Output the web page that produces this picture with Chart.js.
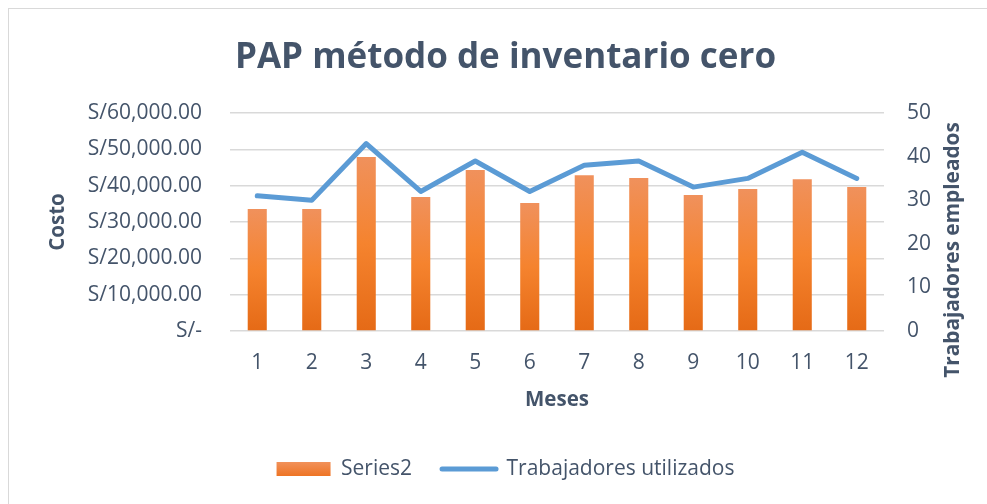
<!DOCTYPE html>
<html>
<head>
<meta charset="utf-8">
<script src="https://cdn.jsdelivr.net/npm/chart.js@4.4.1/dist/chart.umd.min.js"></script>
<style>
  html, body { margin: 0; padding: 0; background: #ffffff; }
  #wrap { position: relative; width: 987px; height: 504px; overflow: hidden; }
  #frame { position: absolute; left: 8px; top: 8px; width: 1200px; height: 800px; border: 1.5px solid #D9D9D9; box-sizing: border-box; pointer-events: none; }
  canvas { position: absolute; left: 0; top: 0; }
</style>
</head>
<body>
<div id="wrap">
  <canvas id="c" width="987" height="504"></canvas>
  <div id="frame"></div>
</div>
<script>
const categories = ['1','2','3','4','5','6','7','8','9','10','11','12'];
const costos = [33600, 33600, 47900, 36900, 44300, 35200, 42900, 42100, 37400, 39100, 41800, 39600];
const trabajadores = [31, 30, 43, 32, 39, 32, 38, 39, 33, 35, 41, 35];
const costTicks = [0, 10000, 20000, 30000, 40000, 50000, 60000];
const workerTicks = [0, 10, 20, 30, 40, 50];

const TEXT = '#44546A';
const FONT = "'Open Sans', 'Noto Sans', sans-serif";
const PAD_LEFT = 24;

function fmtCost(v) {
  if (v === 0) return 'S/-';
  return 'S/' + v.toLocaleString('en-US', {minimumFractionDigits: 2, maximumFractionDigits: 2});
}

function barFill(context) {
  const chart = context.chart;
  const area = chart.chartArea;
  if (!area || context.type !== 'data') return '#F07F33';
  const ys = chart.scales.y;
  const top = ys.getPixelForValue(context.raw);
  const bottom = ys.getPixelForValue(0);
  if (!isFinite(top) || !isFinite(bottom) || bottom - top < 1) return '#F07F33';
  const g = chart.ctx.createLinearGradient(0, top, 0, bottom);
  g.addColorStop(0, '#F0915C');
  g.addColorStop(0.5, '#F5832E');
  g.addColorStop(1, '#E56A16');
  return g;
}

function legendFill(chart) {
  const g = chart.ctx.createLinearGradient(0, 462, 0, 476);
  g.addColorStop(0, '#F1915A');
  g.addColorStop(1, '#EE7424');
  return g;
}

const rightTitlePlugin = {
  id: 'rightTitle',
  afterDraw(chart) {
    const ctx = chart.ctx;
    const area = chart.chartArea;
    ctx.save();
    ctx.translate(953, (area.top + area.bottom) / 2 + 28);
    ctx.rotate(-Math.PI / 2);
    ctx.font = "bold 20.8px " + FONT;
    ctx.fillStyle = TEXT;
    ctx.textAlign = 'center';
    ctx.textBaseline = 'middle';
    ctx.fillText('Trabajadores empleados', 0, 0);
    ctx.restore();
  }
};

new Chart(document.getElementById('c'), {
  data: {
    labels: categories,
    datasets: [
      {
        type: 'line',
        label: 'Trabajadores utilizados',
        data: trabajadores,
        yAxisID: 'y1',
        borderColor: '#5B9BD5',
        backgroundColor: '#5B9BD5',
        borderWidth: 5,
        pointRadius: 0,
        pointHoverRadius: 0,
        tension: 0,
        borderJoinStyle: 'round',
        borderCapStyle: 'round',
        order: 0
      },
      {
        type: 'bar',
        label: 'Series2',
        data: costos,
        yAxisID: 'y',
        backgroundColor: barFill,
        borderWidth: 0,
        barPercentage: 0.35,
        categoryPercentage: 1.0,
        order: 1
      }
    ]
  },
  options: {
    responsive: false,
    animation: false,
    devicePixelRatio: 1,
    layout: { padding: { left: PAD_LEFT, right: 0, top: 0, bottom: 14.5 } },
    plugins: {
      title: {
        display: true,
        text: 'PAP método de inventario cero',
        color: TEXT,
        font: { family: FONT, size: 35, weight: 'bold', lineHeight: 1.2 },
        padding: { top: 37, bottom: 34 }
      },
      legend: {
        position: 'bottom',
        labels: {
          usePointStyle: true,
          pointStyleWidth: 54,
          boxHeight: 14,
          padding: 30,
          color: TEXT,
          font: { family: FONT, size: 21 },
          generateLabels(chart) {
            const ds = chart.data.datasets;
            return [
              { text: ds[1].label, fillStyle: legendFill(chart), strokeStyle: '#F07F33', lineWidth: 0, pointStyle: 'rect', datasetIndex: 1, fontColor: TEXT },
              { text: ds[0].label, fillStyle: 'rgba(0,0,0,0)', strokeStyle: '#5B9BD5', lineWidth: 5, lineCap: 'round', pointStyle: 'line', datasetIndex: 0, fontColor: TEXT }
            ];
          }
        }
      },
      tooltip: { enabled: false }
    },
    scales: {
      x: {
        offset: true,
        grid: { display: false, drawTicks: false },
        border: { display: false },
        ticks: { color: TEXT, font: { family: FONT, size: 21 }, padding: 19.4, maxRotation: 0 },
        title: { display: true, text: 'Meses', color: TEXT, font: { family: FONT, size: 20.5, weight: 'bold', lineHeight: 1.2 }, padding: { top: 0, bottom: 16.2 } },
        afterFit(scale) { scale.height = 97.5; }
      },
      y: {
        position: 'left',
        min: 0, max: 60000,
        afterBuildTicks(scale) { scale.ticks = costTicks.map(v => ({ value: v })); },
        grid: { color: '#D9D9D9', lineWidth: 1.5, drawTicks: false },
        border: { display: false },
        ticks: { color: TEXT, font: { family: FONT, size: 21 }, padding: 28, callback: (v) => fmtCost(v) },
        title: { display: true, text: 'Costo', color: TEXT, font: { family: FONT, size: 20.5, weight: 'bold', lineHeight: 1.2 }, padding: { top: 45.7 - PAD_LEFT, bottom: 0 } },
        afterFit(scale) { scale.width = 230 - PAD_LEFT; }
      },
      y1: {
        position: 'right',
        min: 0, max: 50,
        afterBuildTicks(scale) { scale.ticks = workerTicks.map(v => ({ value: v })); },
        grid: { display: false, drawTicks: false },
        border: { display: false },
        ticks: { color: TEXT, font: { family: FONT, size: 21 }, padding: 23 },
        afterFit(scale) { scale.width = 103; }
      }
    }
  },
  plugins: [rightTitlePlugin]
});
</script>
</body>
</html>
